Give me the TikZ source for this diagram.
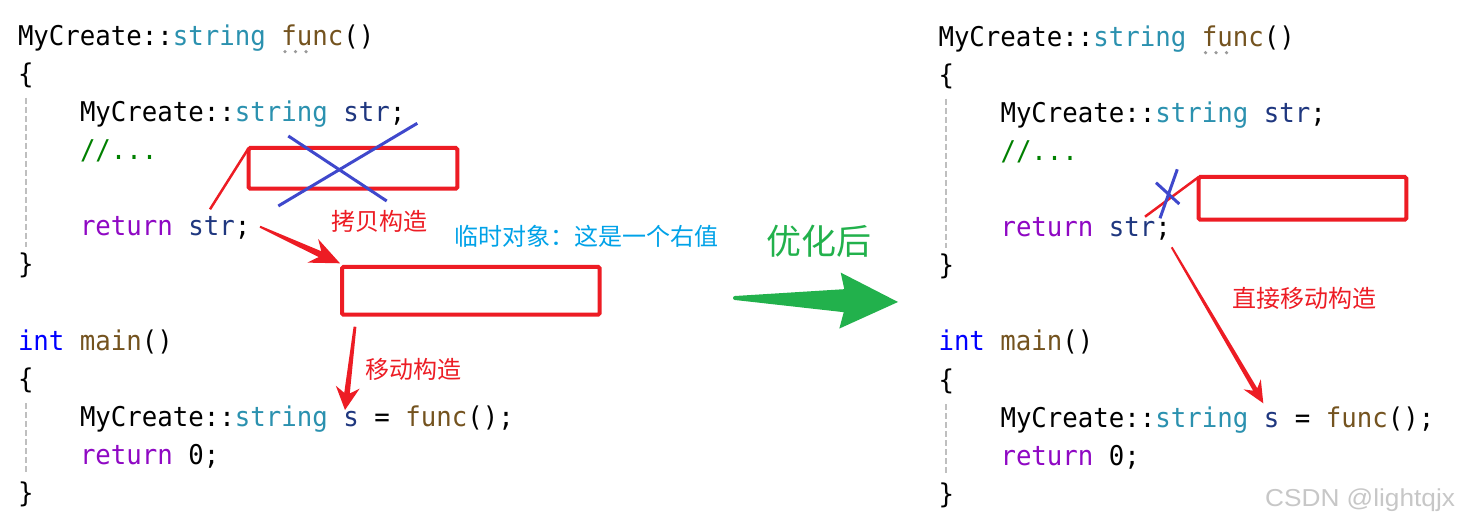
\documentclass[tikz,border=0pt]{standalone}
\usepackage{fontspec}
\usetikzlibrary{calc}
\newfontfamily\codefont[FakeStretch=0.946]{DejaVu Sans Mono}
\newfontfamily\cjkfont{Noto Sans CJK SC}
\newfontfamily\wmfont[FakeStretch=1.07]{Liberation Sans}
\definecolor{ctype}{HTML}{2B91AF}
\definecolor{cfun}{HTML}{74531F}
\definecolor{cvar}{HTML}{1F377F}
\definecolor{cret}{HTML}{8F08C4}
\definecolor{cint}{HTML}{0000FF}
\definecolor{ccom}{HTML}{008000}
\definecolor{pred}{HTML}{ED1C24}
\definecolor{pblue}{HTML}{3F48CC}
\definecolor{pcyan}{HTML}{00A2E8}
\definecolor{pgreen}{HTML}{22B14C}
\newcommand\kwtype[1]{\textcolor{ctype}{#1}}
\newcommand\kwfun[1]{\textcolor{cfun}{#1}}
\newcommand\kwvar[1]{\textcolor{cvar}{#1}}
\newcommand\kwret[1]{\textcolor{cret}{#1}}
\newcommand\kwint[1]{\textcolor{cint}{#1}}
\newcommand\kwcom[1]{\textcolor{ccom}{#1}}
% tapered arrow: tail, tip, headlen, joinlen, headhalf, shafthalf, tailhalf, colour
\newcommand\taperarrow[8]{%
  \coordinate (ta-J) at ($(#2)!#4!(#1)$);
  \coordinate (ta-B) at ($(#2)!#3!(#1)$);
  \fill[#8] ($(#1)!#7!90:(#2)$) -- ($(ta-J)!#6!90:(#2)$) -- ($(ta-B)!#5!90:(#2)$) -- (#2)
    -- ($(ta-B)!#5!-90:(#2)$) -- ($(ta-J)!#6!-90:(#2)$) -- ($(#1)!#7!-90:(#2)$) -- cycle;
}
\tikzset{
  code/.style={anchor=base west, inner sep=0pt, outer sep=0pt, font=\codefont\fontsize{27.2}{38}\selectfont},
  guide/.style={draw=black!25, line width=2pt, dash pattern=on 6pt off 3pt},
  redbox/.style={draw=pred, line width=4pt, rounded corners=1.5pt, inner sep=0pt, outer sep=0pt},
  redline/.style={draw=pred, line width=2.5pt},
  xline/.style={draw=pblue, line width=3pt},
  lab/.style={inner sep=0pt, outer sep=0pt, font=\cjkfont\fontsize{24}{28}\selectfont},
  dotg/.style={fill=black!40},
}
\begin{document}
\begin{tikzpicture}[x=1pt, y=-1pt]
\useasboundingbox (0,0) rectangle (1462,521);
\fill[white] (0,0) rectangle (1462,521);

% ---------------- left code ----------------
\draw[guide] (25.7,98) -- (25.7,247);
\draw[guide] (25.7,403) -- (25.7,473);
\node[code] (l1) at (18,46) {MyCreate::\kwtype{string} \kwfun{func}()};
\node[code] (l2) at (18,84) {\{};
\node[code] (l3) at (80,122) {MyCreate::\kwtype{string} \kwvar{str};};
\node[code] (l4) at (80,160) {\kwcom{//...}};
\node[code] (l6) at (80,236) {\kwret{return} \kwvar{str};};
\node[code] (l7) at (18,274) {\}};
\node[code] (l9) at (18,350) {\kwint{int} \kwfun{main}()};
\node[code] (l10) at (18,388) {\{};
\node[code] (l11) at (80,426) {MyCreate::\kwtype{string} \kwvar{s} = \kwfun{func}();};
\node[code] (l12) at (80,464) {\kwret{return} 0;};
\node[code] (l13) at (18,502) {\}};
\fill[dotg] (285,51.7) circle (1.8) (295.5,51.7) circle (1.8) (306,51.7) circle (1.8);

% ---------------- right code ----------------
\draw[guide] (946.2,99) -- (946.2,248);
\draw[guide] (946.2,404) -- (946.2,474);
\node[code] (r1) at (938.5,47) {MyCreate::\kwtype{string} \kwfun{func}()};
\node[code] (r2) at (938.5,85) {\{};
\node[code] (r3) at (1000.5,123) {MyCreate::\kwtype{string} \kwvar{str};};
\node[code] (r4) at (1000.5,161) {\kwcom{//...}};
\node[code] (r6) at (1000.5,237) {\kwret{return} \kwvar{str};};
\node[code] (r7) at (938.5,275) {\}};
\node[code] (r9) at (938.5,351) {\kwint{int} \kwfun{main}()};
\node[code] (r10) at (938.5,389) {\{};
\node[code] (r11) at (1000.5,427) {MyCreate::\kwtype{string} \kwvar{s} = \kwfun{func}();};
\node[code] (r12) at (1000.5,465) {\kwret{return} 0;};
\node[code] (r13) at (938.5,503) {\}};
\fill[dotg] (1205.5,52.7) circle (1.8) (1216,52.7) circle (1.8) (1226.5,52.7) circle (1.8);

% ---------------- left annotations ----------------
\node[redbox, minimum width=208.6pt, minimum height=40.7pt] (box1) at (353,168.35) {};
\node[redbox, minimum width=257.7pt, minimum height=47.7pt] (box2) at (470.85,290.85) {};
\coordinate (c1) at (210,209.3);
\draw[redline] (c1) -- (box1.north west);
\coordinate (xa1) at (278.3,206);
\coordinate (xa2) at (417.3,123.3);
\coordinate (xb1) at (288.3,136);
\coordinate (xb2) at (386.7,201);
\draw[xline] (xa1) -- (xa2);
\draw[xline] (xb1) -- (xb2);
\node[lab, text=pred] (copy) at (379,221.7) {拷贝构造};
\node[lab, text=pcyan] (temp) at (586,236) {临时对象：这是一个右值};
\coordinate (a1t) at (260,226.7);
\coordinate (a1h) at (340,263.3);
\taperarrow{a1t}{a1h}{30pt}{22pt}{13pt}{3.2pt}{1pt}{pred}
\coordinate (a2t) at (355,326.7);
\coordinate (a2h) at (345,410);
\taperarrow{a2t}{a2h}{23pt}{17pt}{12pt}{2.8pt}{1.4pt}{pred}
\node[lab, text=pred] (move) at (413.3,369.2) {移动构造};

% ---------------- middle ----------------
\node[inner sep=0pt, text=pgreen, font=\cjkfont\fontsize{35}{40}\selectfont] (opt) at (819,241) {优化后};
\coordinate (gt) at (735,298);
\coordinate (gh) at (898,302);
\taperarrow{gt}{gh}{58pt}{54pt}{28pt}{11.5pt}{2pt}{pgreen}
\fill[pgreen] (gt) circle (2pt);

% ---------------- right annotations ----------------
\node[redbox, minimum width=207.6pt, minimum height=42.7pt] (box3) at (1302.5,198.35) {};
\coordinate (c3) at (1145,216.7);
\draw[redline] (c3) -- (box3.north west);
\coordinate (ya1) at (1160,218.3);
\coordinate (ya2) at (1177.3,169.3);
\coordinate (yb1) at (1156,182.7);
\coordinate (yb2) at (1179.3,204);
\draw[xline] (ya1) -- (ya2);
\draw[xline] (yb1) -- (yb2);
\coordinate (a3t) at (1171.7,247.3);
\coordinate (a3h) at (1263.3,403.3);
\taperarrow{a3t}{a3h}{22pt}{16pt}{10pt}{2.4pt}{1pt}{pred}
\node[lab, text=pred] (direct) at (1304.7,298.3) {直接移动构造};

% watermark
\node[anchor=base west, inner sep=0pt, text=black!22, font=\wmfont\fontsize{24.5}{28}\selectfont] (wm) at (1265,506) {CSDN @lightqjx};
\end{tikzpicture}
\end{document}
